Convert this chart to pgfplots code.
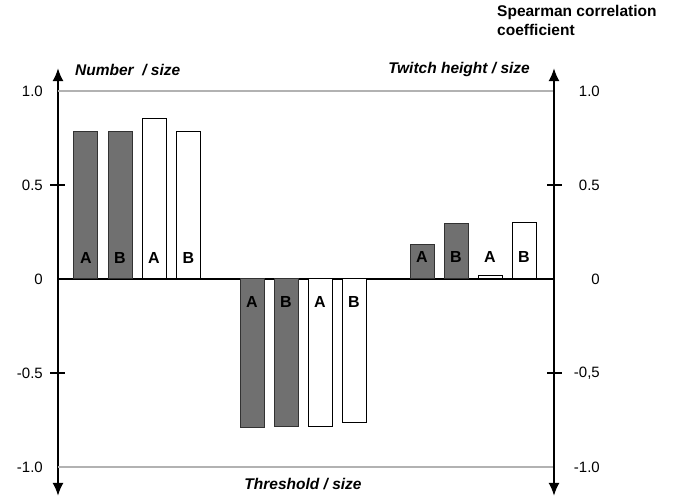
\documentclass[border=0pt]{standalone}
\usepackage{pgfplots}
\pgfplotsset{compat=1.18}
\usepackage{fontspec}
\setmainfont{Liberation Sans}
\usetikzlibrary{arrows.meta}
\definecolor{bargray}{RGB}{112,112,112}
\definecolor{baredge}{RGB}{50,50,50}
\definecolor{gridgray}{RGB}{178,178,178}
\begin{document}
\begin{tikzpicture}
\pgfplotsset{
  common/.style={
    x=1pt, y=188pt, xmin=58, xmax=554, ymin=-1.154, ymax=1.122,
    clip=false, xtick=\empty,
    ytick={-1,-0.5,0,0.5,1},
    major tick length=0pt,
    extra y ticks={-0.5,0.5},
    extra y tick labels={},
    extra y tick style={major tick length=15pt, tick align=center, tick style={line width=1.5pt, black}},
  },
  yline/.style={
    every outer y axis line/.style={{Latex[length=13pt,width=11pt]}-{Latex[length=13pt,width=11pt]}, line width=2pt, black},
  }
}
\begin{axis}[common,
  axis x line=middle, axis y line=left, yline,
  every inner x axis line/.style={-, line width=1.9pt, black},
  yticklabels={-1.0,-0.5,0,0.5,1.0},
  yticklabel style={font=\fontsize{15}{15}\selectfont, anchor=east, inner sep=0pt, xshift=-15pt},
]
\addplot[gridgray, line width=1.3pt, forget plot] coordinates {(58,1) (554,1)};
\addplot[gridgray, line width=1.3pt, forget plot] coordinates {(58,-1) (554,-1)};
\addplot[ybar, bar shift=0pt, bar width=24pt, fill=bargray, draw=baredge, line width=1pt]
  coordinates {(86,0.787) (120,0.782) (252,-0.792) (286,-0.782) (422,0.186) (456,0.293)};
\addplot[ybar, bar shift=0pt, bar width=24pt, fill=white, draw=black, line width=1pt]
  coordinates {(154,0.852) (188.5,0.782) (320,-0.782) (354,-0.761) (490,0.021) (524,0.303)};
\addplot[draw=none, mark=none, nodes near coords, point meta=explicit symbolic,
  nodes near coords style={anchor=center, font=\fontsize{16}{16}\selectfont\bfseries, text=black}]
  table[x=x, y=y, meta=l] {
x y l
86 0.11 A
120 0.11 B
154 0.11 A
188.5 0.11 B
252 -0.122 A
286 -0.122 B
320 -0.122 A
354 -0.122 B
422 0.115 A
456 0.115 B
490 0.115 A
524 0.115 B
};
\node[anchor=west, font=\fontsize{15.5}{15.5}\selectfont\bfseries\itshape, inner sep=0pt] at (axis cs:75,1.112) {Number\ \ / size};
\node[anchor=east, font=\fontsize{15.5}{15.5}\selectfont\bfseries\itshape, inner sep=0pt] at (axis cs:530,1.112) {Twitch height / size};
\node[anchor=center, font=\fontsize{15.5}{15.5}\selectfont\bfseries\itshape, inner sep=0pt] at (axis cs:303,-1.09) {Threshold / size};
\node[anchor=north west, align=left, font=\fontsize{15.5}{19}\selectfont\bfseries, inner sep=0pt] at (axis cs:497,1.455) {Spearman correlation\\coefficient};
\coordinate (bl) at (axis cs:0,-1.186);
\coordinate (tr) at (axis cs:675,1.484);
\end{axis}
\begin{axis}[common,
  axis x line=none, axis y line=right, yline,
  yticklabels={-1.0,{-0,5},0,0.5,1.0},
  yticklabel style={font=\fontsize{15}{15}\selectfont, anchor=east, inner sep=0pt, xshift=46pt},
]
\addplot[draw=none, forget plot] coordinates {(100,0)};
\end{axis}
\pgfresetboundingbox
\useasboundingbox (bl) rectangle (tr);
\end{tikzpicture}
\end{document}
